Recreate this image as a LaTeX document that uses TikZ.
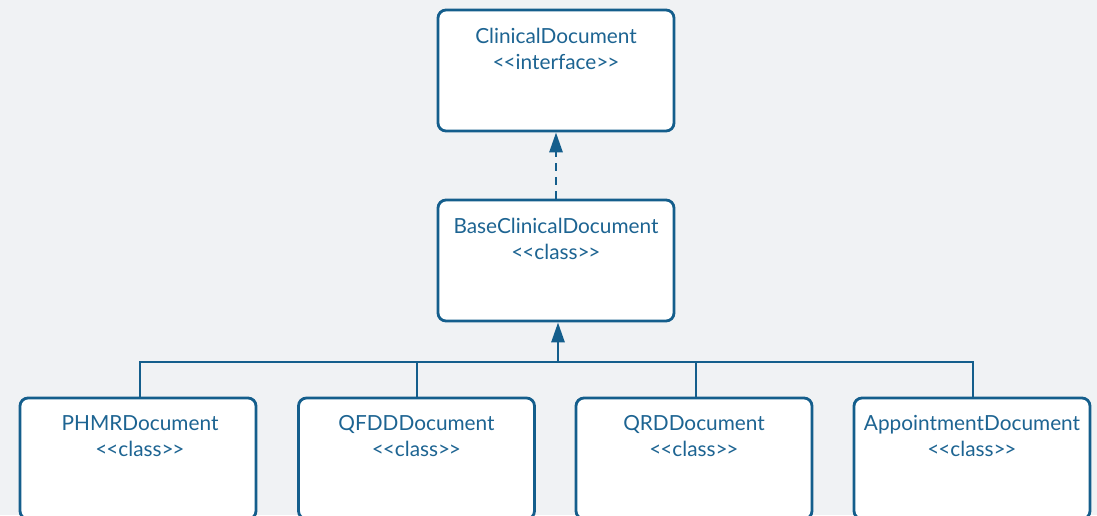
\documentclass[tikz,border=0pt]{standalone}
\usepackage{fontspec}
\setmainfont{Lato}
\usetikzlibrary{arrows.meta}
\definecolor{umlline}{HTML}{145E8C}
\definecolor{umltext}{HTML}{1D6492}
\definecolor{canvas}{HTML}{F0F2F4}
\newcommand{\stereo}[1]{<\kern-1.2pt<#1>\kern-1.2pt>}
\tikzset{
  umlbox/.style={draw=umlline, line width=2.8pt, fill=white, rounded corners=8pt,
    minimum width=236pt, minimum height=121pt, inner sep=0pt},
  umllabel/.style={text=umltext, font=\fontsize{20.8}{26}\selectfont, align=center},
  wire/.style={draw=umlline, line width=2.8pt},
  gentip/.style={-{Triangle[length=20pt,width=13pt]}},
}
\begin{document}
\begin{tikzpicture}[x=1pt,y=-1pt]
  \fill[canvas] (0,0) rectangle (1097,515);
  \useasboundingbox (0,0) rectangle (1097,515);
  \clip (0,0) rectangle (1097,515);

  % interface and base class
  \node[umlbox] (cd) at (556,70.5) {};
  \node[umlbox] (bcd) at (556,260.5) {};
  % concrete document classes
  \node[umlbox] (phmr) at (138,458.5) {};
  \node[umlbox] (qfdd) at (416.5,458.5) {};
  \node[umlbox] (qrd) at (694,458.5) {};
  \node[umlbox] (appt) at (972,458.5) {};

  \node[umllabel] at (556,49) {ClinicalDocument\\\stereo{interface}};
  \node[umllabel] at (556,239) {BaseClinicalDocument\\\stereo{class}};
  \node[umllabel] at (140,436) {PHMRDocument\\\stereo{class}};
  \node[umllabel] at (416.5,436) {QFDDDocument\\\stereo{class}};
  \node[umllabel] at (694,436) {QRDDocument\\\stereo{class}};
  \node[umllabel] at (972,436) {AppointmentDocument\\\stereo{class}};

  % realization: base class implements the interface
  \draw[wire, gentip, dash pattern=on 8pt off 6pt] (bcd.north) -- (cd.south);

  % generalization tree
  \coordinate (bus) at (558,362);
  \draw[wire, gentip] (bus) -- (bcd.south -| bus);
  \draw[wire, line cap=rect] (phmr.north -| 140,0) |- (bus);
  \draw[wire] (qfdd.north -| 417,0) -- (417,362);
  \draw[wire] (qrd.north -| 696,0) -- (696,362);
  \draw[wire, line cap=rect] (appt.north -| 973,0) |- (bus);
\end{tikzpicture}
\end{document}
